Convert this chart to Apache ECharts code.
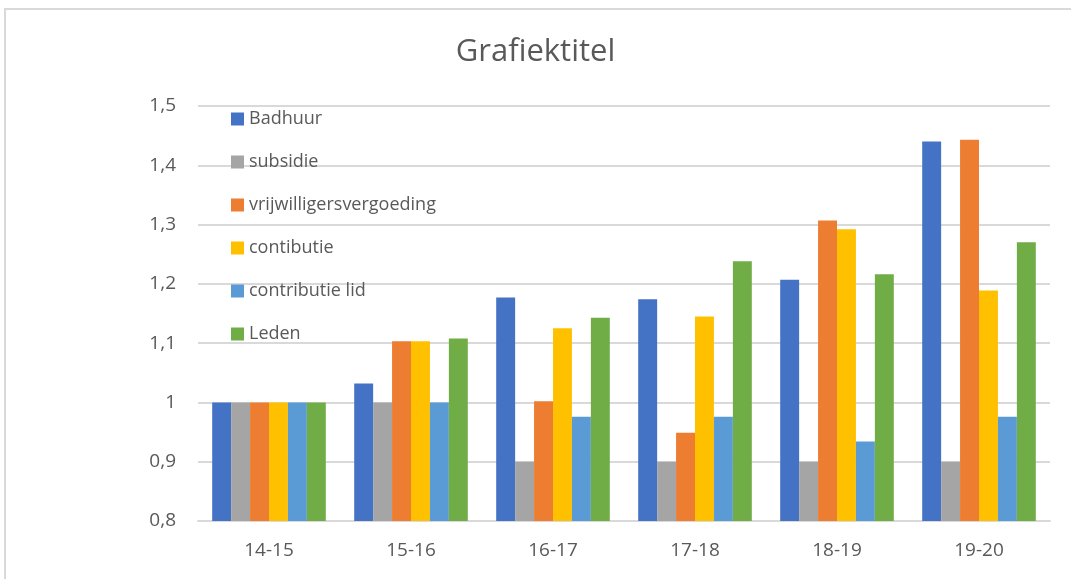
<!DOCTYPE html>
<html>
<head>
<meta charset="utf-8">
<script src="https://cdn.jsdelivr.net/npm/echarts@6/dist/echarts.min.js"></script>
<style>
  html, body { margin: 0; padding: 0; background: #fff; }
  #frame { position: absolute; left: 4px; top: 8px; width: 1080px; height: 590px;
           border-left: 2px solid #d9d9d9; border-top: 2px solid #d9d9d9; }
  #main { position: absolute; left: 0; top: 0; width: 1071px; height: 579px; }
</style>
</head>
<body>
<div id="frame"></div>
<div id="main"></div>
<script>
// jaren
var categories = ['14-15', '15-16', '16-17', '17-18', '18-19', '19-20'];

// waarden per reeks
var badhuur = [1, 1.032, 1.177, 1.174, 1.207, 1.440];
var subsidie = [1, 1, 0.9, 0.9, 0.9, 0.9];
var vrijwilligersvergoeding = [1, 1.103, 1.002, 0.949, 1.307, 1.443];
var contibutie = [1, 1.103, 1.125, 1.145, 1.292, 1.189];
var contributieLid = [1, 1, 0.976, 0.976, 0.934, 0.976];
var leden = [1, 1.108, 1.143, 1.238, 1.216, 1.270];

var seriesNames = ['Badhuur', 'subsidie', 'vrijwilligersvergoeding', 'contibutie', 'contributie lid', 'Leden'];
var seriesData = [badhuur, subsidie, vrijwilligersvergoeding, contibutie, contributieLid, leden];
var colors = ['#4472c4', '#a5a5a5', '#ed7d31', '#ffc000', '#5b9bd5', '#70ad47'];

var fontFam = '"Open Sans", "Liberation Sans", sans-serif';

window.onload = function () {
    var myChart = echarts.init(document.getElementById('main'));
    var series = [];
    for (let i = 0; i < seriesNames.length; i++) {
        series.push({
            name: seriesNames[i],
            type: 'bar',
            data: seriesData[i],
            barGap: '0%',
            barCategoryGap: '20%',
            itemStyle: { color: colors[i] }
        });
    }
    myChart.setOption({
        animation: false,
        color: colors,
        textStyle: { fontFamily: fontFam },
        title: {
            text: 'Grafiektitel',
            left: 'center',
            top: 32,
            textStyle: { fontSize: 31, fontWeight: 'normal', color: '#595959', fontFamily: fontFam }
        },
        legend: {
            orient: 'vertical',
            left: 226,
            top: 105,
            itemWidth: 13,
            itemHeight: 13,
            itemGap: 25,
            icon: 'rect',
            textStyle: { fontSize: 18, color: '#595959', fontFamily: fontFam },
            data: seriesNames
        },
        grid: {
            left: 198,
            right: 21,
            top: 106,
            bottom: 58
        },
        xAxis: {
            type: 'category',
            data: categories,
            axisTick: { show: false },
            axisLine: { lineStyle: { color: '#d9d9d9', width: 2 } },
            axisLabel: { fontSize: 19, color: '#595959', margin: 20 }
        },
        yAxis: {
            type: 'value',
            min: 0.8,
            max: 1.5,
            interval: 0.1,
            axisLine: { show: false },
            axisTick: { show: false },
            splitLine: { lineStyle: { color: '#d9d9d9', width: 2 } },
            axisLabel: {
                fontSize: 19,
                color: '#595959',
                margin: 22,
                formatter: function (v) {
                    return String(Math.round(v * 10) / 10).replace('.', ',');
                }
            }
        },
        series: series
    });
}
</script>
</body>
</html>
